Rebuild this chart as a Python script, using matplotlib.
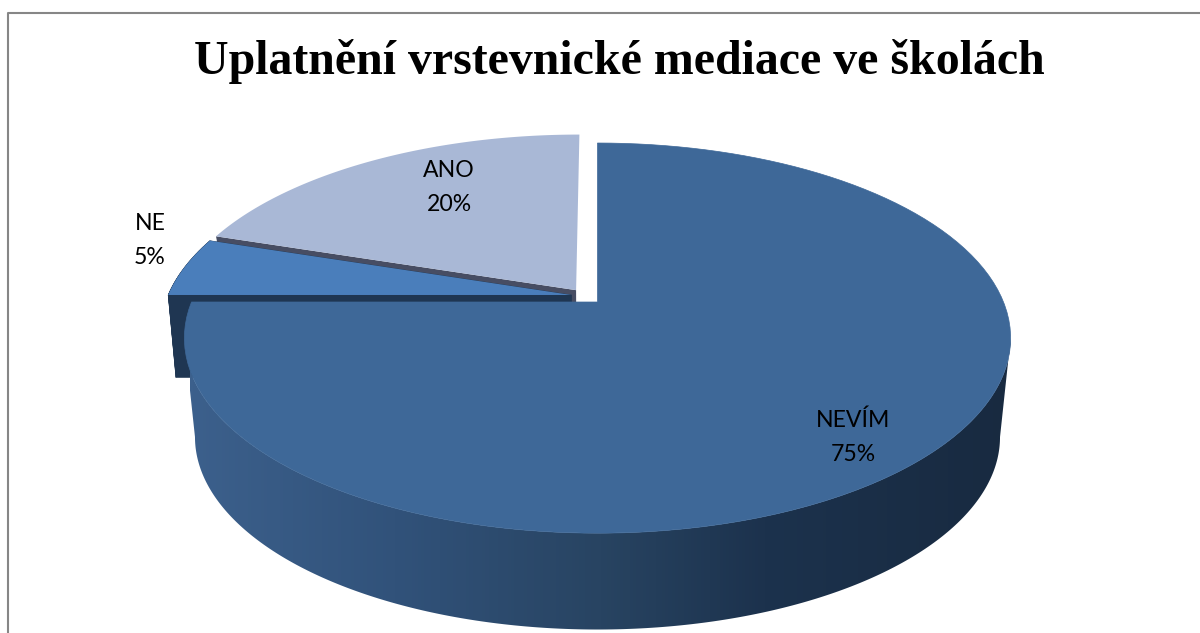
import numpy as np
import matplotlib
matplotlib.use('Agg')
import matplotlib.pyplot as plt
from matplotlib.colors import LinearSegmentedColormap
from matplotlib.patches import Polygon

title = 'Uplatnění vrstevnické mediace ve školách'
categories = ['NEVÍM', 'NE', 'ANO']
values = [75, 5, 20]
explode = [0.0, 0.075, 0.083]
explode_dir = [0, 300, 320] # smer vysunuti ve stupnich
colors = ['#3E6898', '#4A7EBB', '#A9B8D6']
side_colors = [None, '#1F3652', '#474D63']
label_pos = [(853, 437.5), (150, 240.5), (449, 187.5)]

W, H = 1200, 633
cx = 597.5

# perspektiva horniho a dolniho kotouce: a, b, k, y stredu
top_disc = (406.0, 188.4, 0.185, 302.0)
bot_disc = (387.0, 178.0, 0.275, 384.0)
slice_bot_disc = (400.0, 178.0, 0.275, 384.0)


def project(u, v, disc):
    a, b, k, y0 = disc
    w = 1 + k*v
    return cx + a*u/w, y0 - b*v/w


def sector(t0, t1, off, disc):
    # uhly merene od vrcholu po smeru hodinovych rucicek
    t = np.linspace(t0, t1, 120)
    u = np.concatenate([[off[0]], off[0] + np.sin(t)])
    v = np.concatenate([[off[1]], off[1] + np.cos(t)])
    x, y = project(u, v, disc)
    return np.column_stack([x, y])


def front_arc(disc):
    k = disc[2]
    t = np.linspace(np.pi - np.arccos(k), np.pi + np.arccos(k), 240)
    x, y = project(np.sin(t), np.cos(t), disc)
    return np.column_stack([x, y])


fig = plt.figure(figsize=(W/100, H/100), dpi=100)
ax = fig.add_axes([0, 0, 1, 1])
ax.set_xlim(0, W)
ax.set_ylim(H, 0)
ax.axis('off')

ends = np.cumsum(values)/np.sum(values)*2*np.pi
starts = np.concatenate([[0], ends[:-1]])
offsets = [(e*np.sin(np.radians(d)), e*np.cos(np.radians(d))) for e, d in zip(explode, explode_dir)]

# vysunute vysece - bocni steny
for i in [1, 2]:
    t_pts = sector(starts[i], ends[i], offsets[i], top_disc)
    b_pts = sector(starts[i], ends[i], offsets[i], slice_bot_disc)
    if i == 1:
        ax.add_patch(Polygon(b_pts, closed=True, fc=side_colors[i], ec='none', zorder=2))
        for j in range(len(t_pts)):
            n = (j + 1) % len(t_pts)
            quad = [t_pts[j], t_pts[n], b_pts[n], b_pts[j]]
            ax.add_patch(Polygon(quad, closed=True, fc=side_colors[i], ec=side_colors[i], lw=0.3, zorder=2))
    else:
        # u ANO je videt jen rez od stredu k levemu okraji
        quad = [t_pts[0], t_pts[1], b_pts[1], b_pts[0]]
        ax.add_patch(Polygon(quad, closed=True, fc=side_colors[i], ec='none', zorder=1.5))
    ax.add_patch(Polygon(t_pts, closed=True, fc=colors[i], ec='none', zorder=3))

# plast hlavni vysece s prechodem
side = np.vstack([front_arc(top_disc), front_arc(bot_disc)[::-1]])
side_patch = Polygon(side, closed=True, fc='none', ec='none')
ax.add_patch(side_patch)
cmap = LinearSegmentedColormap.from_list('plast', [
    (0.0, '#3C608C'), (0.25, '#31527A'), (0.5, '#284462'),
    (0.7, '#1C324D'), (1.0, '#182A40')])
grad = ax.imshow(np.linspace(0, 1, 256)[None, :], cmap=cmap, aspect='auto',
                 extent=(190, 1012, H, 0), zorder=4)
grad.set_clip_path(side_patch)
ax.set_xlim(0, W)
ax.set_ylim(H, 0)

# horni plocha hlavni vysece
ax.add_patch(Polygon(sector(starts[0], ends[0], offsets[0], top_disc), closed=True,
                     fc=colors[0], ec=colors[0], lw=0.5, zorder=5))

for name, val, pos in zip(categories, values, label_pos):
    ax.text(pos[0], pos[1], f'{name}\n{val}%', ha='center', va='center', fontsize=16.6,
            family='Lato', color='black', linespacing=1.75, zorder=6)

ax.text(619.5, 61.5, title, ha='center', va='center', fontsize=34.5, fontweight='bold',
        family='Liberation Serif', color='black', zorder=6)

# ramecek grafu
ax.plot([7.5, 7.5, W], [H, 12.5, 12.5], color='#868686', lw=1.5, zorder=1)

fig.savefig('out.png', dpi=100)
